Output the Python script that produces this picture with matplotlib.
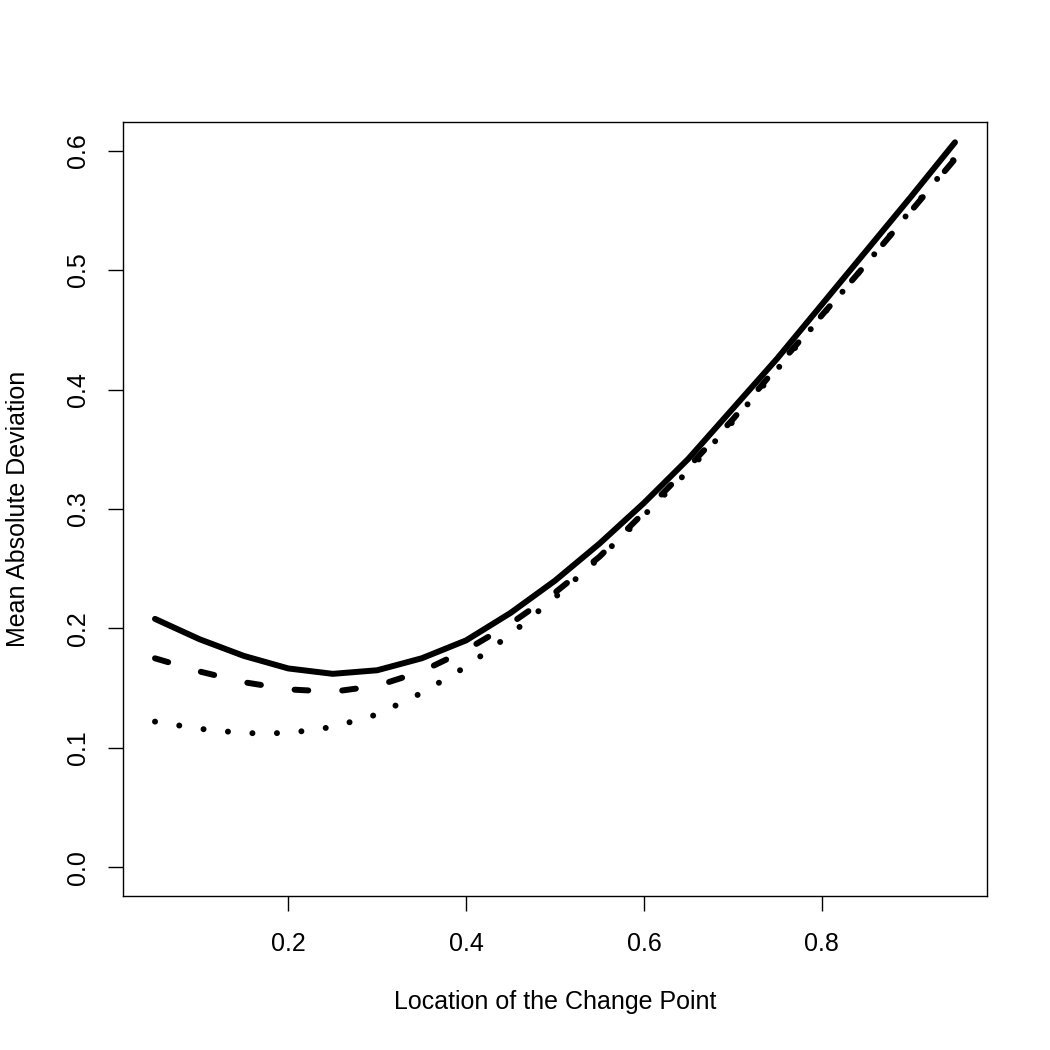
import matplotlib
matplotlib.use("Agg")
from matplotlib import pyplot as plt

plt.rcParams['font.family'] = ['Liberation Sans', 'DejaVu Sans']

location = [0.05, 0.10, 0.15, 0.20, 0.25, 0.30, 0.35, 0.40, 0.45, 0.50,
            0.55, 0.60, 0.65, 0.70, 0.75, 0.80, 0.85, 0.90, 0.95]
mad_solid = [0.208, 0.191, 0.177, 0.1665, 0.162, 0.165, 0.175, 0.190, 0.213, 0.240,
             0.271, 0.305, 0.342, 0.384, 0.426, 0.471, 0.516, 0.561, 0.607]
mad_dashed = [0.175, 0.164, 0.155, 0.149, 0.147, 0.152, 0.164, 0.182, 0.204, 0.230,
              0.260, 0.297, 0.335, 0.375, 0.419, 0.462, 0.505, 0.549, 0.593]
mad_dotted = [0.122, 0.116, 0.1123, 0.1124, 0.1175, 0.128, 0.146, 0.168, 0.195, 0.226,
              0.259, 0.2946, 0.332, 0.373, 0.417, 0.4615, 0.505, 0.550, 0.594]

xticks = [0.2, 0.4, 0.6, 0.8]
yticks = [0.0, 0.1, 0.2, 0.3, 0.4, 0.5, 0.6]

fig = plt.figure(figsize=(10.5, 10.5), dpi=100)
ax = fig.add_axes([123 / 1050, 1 - 896 / 1050, (987 - 123) / 1050, (896 - 122) / 1050])

lw = 4.3
ax.plot(location, mad_solid, color="black", lw=lw, solid_capstyle="round", solid_joinstyle="round")
ax.plot(location, mad_dashed, color="black", lw=lw, dashes=(2.3, 5.7), dash_capstyle="round")
ax.plot(location, mad_dotted, color="black", lw=lw, dashes=(0.01, 4.1), dash_capstyle="round")

ax.set_xlim(0.014, 0.986)
ax.set_ylim(-0.024, 0.624)
ax.set_xticks(xticks)
ax.set_xticklabels([f"{v:.1f}" for v in xticks])
ax.set_yticks(yticks)
ax.set_yticklabels([f"{v:.1f}" for v in yticks], rotation=90, va="center")
ax.tick_params(direction="out", length=10.8, width=1.0, labelsize=18, pad=15)
ax.tick_params(axis="y", pad=13)
for s in ax.spines.values():
    s.set_linewidth(1.0)

fig.text(555 / 1050, 1 - 1002 / 1050, "Location of the Change Point",
         ha="center", va="center", fontsize=18)
fig.text(18 / 1050, 1 - 509 / 1050, "Mean Absolute Deviation",
         ha="center", va="center", rotation=90, fontsize=18)

fig.savefig("out.png", dpi=100, facecolor="white")
